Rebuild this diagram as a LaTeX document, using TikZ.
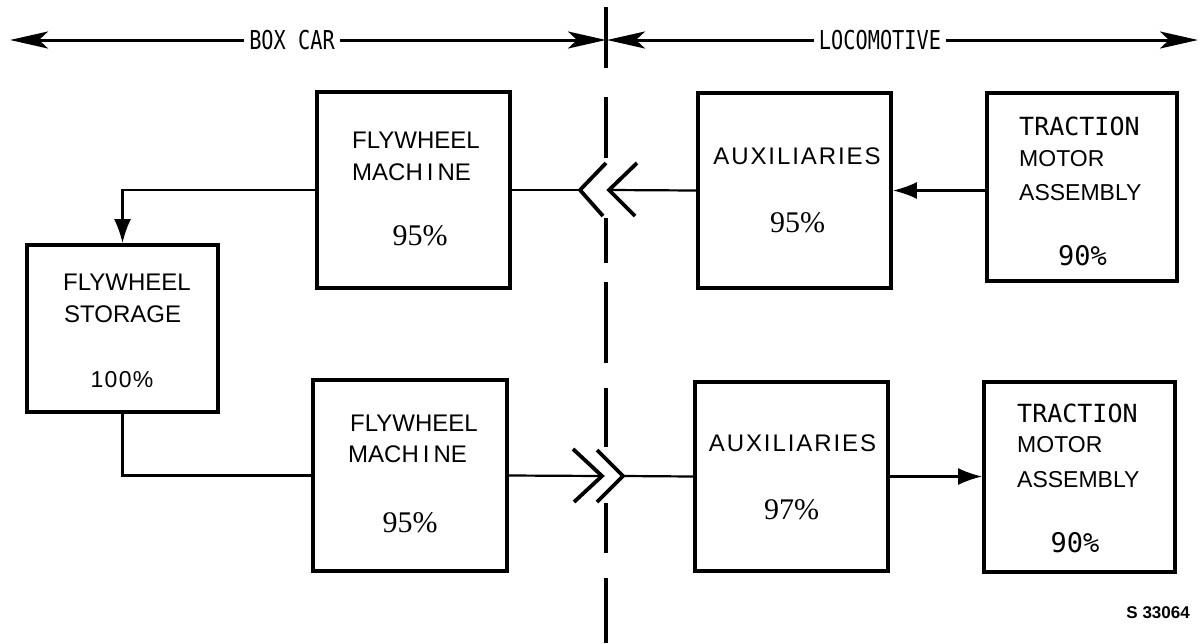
\documentclass[tikz,border=0pt]{standalone}
\usepackage{fontspec}
\setmainfont{Liberation Sans}
\newfontfamily\arialf{Liberation Sans}
\newfontfamily\timesf{Liberation Serif}
\newfontfamily\leroyf{DejaVu Sans Mono}
\newfontfamily\leroynarrow[FakeStretch=0.78]{DejaVu Sans Mono}
\usetikzlibrary{arrows.meta}
\begin{document}
\begin{tikzpicture}[x=1pt,y=-1pt,
  box/.style={draw, line width=3.8pt, inner sep=0pt},
  lab/.style={inner sep=0pt, anchor=base west, font=\arialf\fontsize{24}{24}\selectfont},
  labc/.style={inner sep=0pt, anchor=base, font=\arialf\fontsize{24}{24}\selectfont\addfontfeature{LetterSpace=8}},
  pct/.style={inner sep=0pt, anchor=base, font=\timesf\fontsize{30}{30}\selectfont},
  mono/.style={inner sep=0pt, anchor=base west, font=\leroyf\fontsize{25}{25}\selectfont},
  monopct/.style={inner sep=0pt, anchor=base, font=\leroyf\fontsize{27}{27}\selectfont},
  toplab/.style={inner xsep=5pt, inner ysep=0pt, font=\leroynarrow\fontsize{26}{26}\selectfont},
  toparrow/.style={line width=3pt, -{Stealth[length=38pt,width=17pt,inset=9pt]}},
  conn/.style={line width=2.2pt},
  connarrow/.style={line width=2.2pt, -{Latex[length=24pt,width=17pt]}},
  chev/.style={line width=3.8pt, line join=miter},
  divider/.style={line width=4.5pt}
]
\useasboundingbox (0,0) rectangle (1201,643);

% top labels and arrows
\node[toplab] (bc) at (292,40) {BOX CAR};
\node[toplab] (lc) at (880,40) {LOCOMOTIVE};
\coordinate (bcL) at (10,40);
\coordinate (bcR) at (606,40);
\coordinate (lcL) at (607,40);
\coordinate (lcR) at (1198,40);
\draw[toparrow] (bc.west) -- (bcL);
\draw[toparrow] (bc.east) -- (bcR);
\draw[toparrow] (lc.west) -- (lcL);
\draw[toparrow] (lc.east) -- (lcR);

% divider
\draw[divider] (606,7) -- (606,68) (606,97) -- (606,158) (606,218) -- (606,263)
  (606,282) -- (606,363) (606,388) -- (606,447) (606,503) -- (606,553) (606,578) -- (606,643);

% boxes
\node[box, minimum width=193pt, minimum height=196pt] (fm1) at (413.5,190) {};
\node[box, minimum width=194pt, minimum height=191pt] (fm2) at (410,475.5) {};
\node[box, minimum width=193pt, minimum height=195pt] (aux1) at (794.5,190.5) {};
\node[box, minimum width=193pt, minimum height=189pt] (aux2) at (791.5,476.5) {};
\node[box, minimum width=190pt, minimum height=188pt] (tm1) at (1082,187) {};
\node[box, minimum width=191pt, minimum height=190pt] (tm2) at (1079.5,477) {};
\node[box, minimum width=191pt, minimum height=167pt] (st) at (122.5,328.5) {};

% texts
\node[lab] (fm1a) at (352,148) {FLYWHEEL};
\node[lab] (fm1b) at (352,180) {MACH\,I\,NE};
\node[pct] (fm1c) at (420,245) {95\%};
\node[lab] (fm2a) at (350,431) {FLYWHEEL};
\node[lab] (fm2b) at (348,462) {MACH\,I\,NE};
\node[pct] (fm2c) at (410,532) {95\%};
\node[lab] (sta) at (63,290) {FLYWHEEL};
\node[lab] (stb) at (64,322) {STORAGE};
\node[labc, font=\arialf\fontsize{23}{23}\selectfont\addfontfeature{LetterSpace=6}] (stc) at (122,387) {100\%};
\node[labc] (aux1a) at (797,164) {AUXILIARIES};
\node[pct] (aux1b) at (797.5,232) {95\%};
\node[labc] (aux2a) at (792.5,451) {AUXILIARIES};
\node[pct] (aux2b) at (791.7,519) {97\%};
\node[mono] (tm1a) at (1019,135) {TRACTION};
\node[lab, font=\arialf\fontsize{23}{23}\selectfont] (tm1b) at (1019,166) {MOTOR};
\node[lab, font=\arialf\fontsize{23}{23}\selectfont] (tm1c) at (1019,200) {ASSEMBLY};
\node[monopct] (tm1d) at (1082.5,265) {90\%};
\node[mono] (tm2a) at (1017,422) {TRACTION};
\node[lab, font=\arialf\fontsize{23}{23}\selectfont] (tm2b) at (1017,452) {MOTOR};
\node[lab, font=\arialf\fontsize{23}{23}\selectfont] (tm2c) at (1017,487) {ASSEMBLY};
\node[monopct] (tm2d) at (1075,552) {90\%};
\node[inner sep=0pt, anchor=base east, font=\arialf\bfseries\fontsize{17}{17}\selectfont] (code) at (1190,618) {S 33064};

% chevrons
\coordinate (c1) at (580,190);
\coordinate (c2) at (609,190);
\coordinate (c3) at (602,476);
\coordinate (c4) at (623,476);
\draw[chev] (606,163) -- (c1) -- (603,216);
\draw[chev] (637,163) -- (c2) -- (635,216);
\draw[chev] (573,449) -- (c3) -- (574,502);
\draw[chev] (597,450) -- (c4) -- (597,502);

% connectors
\draw[conn] (fm1.east) -- (c1);
\draw[conn] (c2) -- (aux1.west);
\draw[connarrow] (tm1.west |- aux1.east) -- (aux1.east);
\draw[connarrow] (fm1.west) -| (st.north);
\draw[conn] (st.south) |- (fm2.west);
\draw[conn] (fm2.east) -- (c3);
\draw[conn] (c4) -- (aux2.west);
\draw[connarrow] (aux2.east) -- (aux2.east -| tm2.west);
\end{tikzpicture}
\end{document}
